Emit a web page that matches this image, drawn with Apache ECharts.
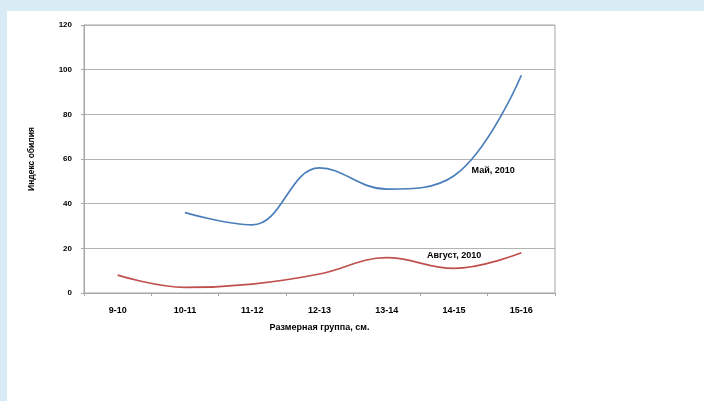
<!DOCTYPE html>
<html><head><meta charset="utf-8">
<script src="https://cdn.jsdelivr.net/npm/echarts@6/dist/echarts.min.js"></script>
<style>
html,body{margin:0;padding:0;background:#fff;}
#top{position:absolute;left:0;top:0;width:704px;height:11px;background:#d9ecf5;}
#left{position:absolute;left:0;top:0;width:7px;height:401px;background:#d9ecf5;}
#chart{position:absolute;left:0;top:0;width:704px;height:401px;}
</style></head>
<body>
<div id="top"></div><div id="left"></div>
<div id="chart"></div>
<script>
const categories = ['9-10','10-11','11-12','12-13','13-14','14-15','15-16'];
const mayValues = [null, 36, 30.5, 56, 46.5, 52.5, 97.5];
const augValues = [8, 2.5, 4, 8.5, 15.8, 11, 18];
const seriesNames = ['Май, 2010', 'Август, 2010'];
const yTicks = [0, 20, 40, 60, 80, 100, 120];
const labelIndex = 5;

const font = 'Liberation Sans, Arial, sans-serif';
const chart = echarts.init(document.getElementById('chart'), null, {renderer:'canvas'});
function labelPoint(values, name, pos, dist, off) {
  return {
    symbol: 'circle', symbolSize: 1,
    itemStyle: {color: 'rgba(0,0,0,0)'},
    label: {show: true, position: pos, distance: dist, offset: off, formatter: name,
            fontFamily: font, fontWeight: 'bold', fontSize: 9, color: '#000'},
    data: [{coord: [categories[labelIndex], values[labelIndex]]}]
  };
}
chart.setOption({
  animation: false,
  backgroundColor: 'transparent',
  grid: {left: 84, right: 149, top: 25, bottom: 108, show: true, borderColor: '#a6a6a6', borderWidth: 1},
  xAxis: {
    type: 'category', data: categories, boundaryGap: true,
    name: 'Размерная группа, см.', nameLocation: 'middle', nameGap: 30,
    nameTextStyle: {fontFamily: font, fontWeight: 'bold', fontSize: 9, color: '#000'},
    axisLine: {lineStyle: {color: '#a6a6a6', width: 1}},
    axisTick: {show: true, length: 3, lineStyle: {color: '#a6a6a6'}},
    axisLabel: {fontFamily: font, fontWeight: 'bold', fontSize: 9, color: '#000', margin: 13}
  },
  yAxis: {
    type: 'value', min: yTicks[0], max: yTicks[yTicks.length-1], interval: 20,
    name: 'Индекс обилия', nameLocation: 'middle', nameGap: 48, nameRotate: 90,
    nameTextStyle: {fontFamily: font, fontWeight: 'bold', fontSize: 8.5, color: '#000'},
    axisLine: {show: true, lineStyle: {color: '#a6a6a6', width: 1}},
    axisTick: {show: true, length: 3, lineStyle: {color: '#a6a6a6'}},
    axisLabel: {fontFamily: font, fontWeight: 'bold', fontSize: 8, color: '#000', margin: 12},
    splitLine: {lineStyle: {color: '#b3b3b3', width: 1}}
  },
  series: [
    {
      name: seriesNames[0], type: 'line', smooth: 0.4, symbol: 'none',
      lineStyle: {color: '#4a7ebb', width: 1.7}, itemStyle: {color: '#4a7ebb'},
      data: mayValues,
      markPoint: labelPoint(mayValues, seriesNames[0], 'right', 17, [0, -5])
    },
    {
      name: seriesNames[1], type: 'line', smooth: 0.4, symbol: 'none',
      lineStyle: {color: '#c0504d', width: 1.7}, itemStyle: {color: '#c0504d'},
      data: augValues,
      markPoint: labelPoint(augValues, seriesNames[1], 'top', 8, [0, 0])
    }
  ]
});
</script>
</body></html>
